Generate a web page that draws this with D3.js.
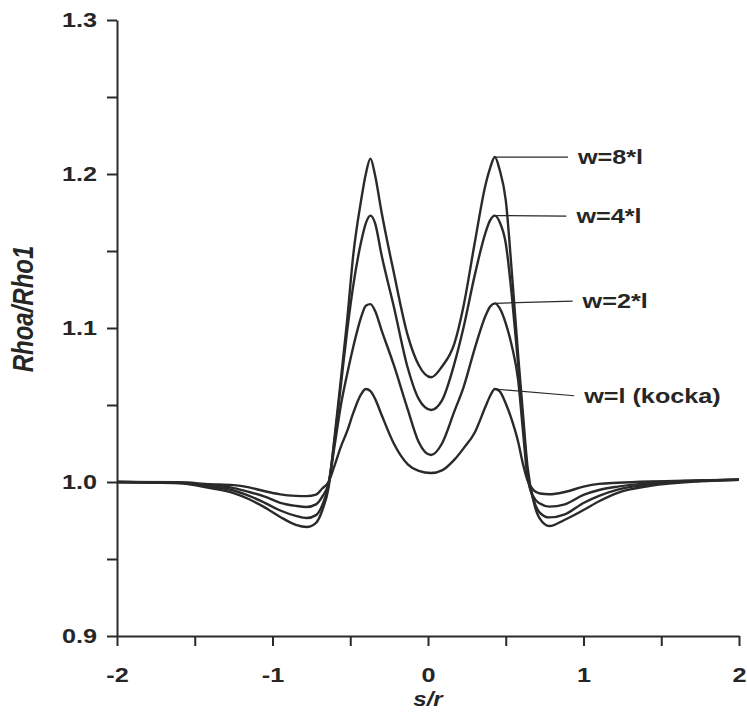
<!DOCTYPE html>
<html>
<head>
<meta charset="utf-8">
<script src="https://cdn.jsdelivr.net/npm/d3@7/dist/d3.min.js"></script>
<style>
body { margin: 0; background: #fff; }
text { font-family: "Liberation Sans", Arial, sans-serif; font-weight: bold; fill: #262626; }
</style>
</head>
<body>
<script>
// s/r positions
var sr = [-2, -1.6, -1.4, -1.25, -1.15, -1.05, -0.95, -0.85, -0.78, -0.72, -0.68, -0.64,
  -0.6, -0.56, -0.52, -0.48, -0.43, -0.4, -0.37, -0.34, -0.3, -0.22, -0.13, -0.06,
  0.02, 0.09, 0.17, 0.23, 0.3, 0.37, 0.4, 0.43, 0.46, 0.5, 0.54, 0.58,
  0.61, 0.64, 0.68, 0.72, 0.78, 0.88, 1.0, 1.1, 1.22, 1.43, 1.75, 2];

// Rhoa/Rho1 for each block width
var w8 = [1.0, 0.9992, 0.996, 0.9928, 0.9888, 0.9835, 0.9773, 0.9722, 0.9708, 0.9735, 0.9815, 0.996,
  1.03, 1.067, 1.105, 1.148, 1.183, 1.2, 1.21, 1.199, 1.176, 1.136, 1.095, 1.076,
  1.068, 1.075, 1.09, 1.115, 1.155, 1.193, 1.204, 1.211, 1.203, 1.183, 1.135, 1.082,
  1.045, 1.01, 0.987, 0.976, 0.9714, 0.9755, 0.9818, 0.9875, 0.993, 0.9975, 1.0005, 1.0015];
var w4 = [1.0, 0.9994, 0.9968, 0.9945, 0.991, 0.9865, 0.9815, 0.978, 0.9766, 0.9785, 0.985, 0.998,
  1.028, 1.063, 1.098, 1.128, 1.156, 1.168, 1.173, 1.168, 1.148, 1.114, 1.074, 1.054,
  1.0468, 1.053, 1.077, 1.101, 1.134, 1.162, 1.17, 1.173, 1.169, 1.155, 1.12, 1.076,
  1.04, 1.006, 0.988, 0.98, 0.977, 0.979, 0.9864, 0.991, 0.995, 0.9985, 1.0008, 1.0015];
var w2 = [1.0, 0.9996, 0.9978, 0.996, 0.9935, 0.9905, 0.9865, 0.9845, 0.9838, 0.9855, 0.9905, 0.999,
  1.024, 1.05, 1.07, 1.088, 1.107, 1.1145, 1.1155, 1.111, 1.099, 1.076, 1.047, 1.026,
  1.0175, 1.025, 1.046, 1.062, 1.0865, 1.108, 1.114, 1.116, 1.113, 1.103, 1.088, 1.066,
  1.034, 1.003, 0.99, 0.986, 0.984, 0.9855, 0.9916, 0.9948, 0.997, 0.9993, 1.001, 1.0015];
var w1 = [1.0, 0.9998, 0.9986, 0.998, 0.9965, 0.994, 0.992, 0.991, 0.9908, 0.9918, 0.9958, 1.0,
  1.011, 1.023, 1.033, 1.045, 1.057, 1.0604, 1.059, 1.054, 1.044, 1.025, 1.0115, 1.0072,
  1.0058, 1.0075, 1.0145, 1.022, 1.032, 1.049, 1.056, 1.0604, 1.059, 1.051, 1.04, 1.026,
  1.012, 1.001, 0.9945, 0.9925, 0.992, 0.9935, 0.997, 0.9988, 0.9995, 1.0003, 1.001, 1.0015];

var seriesNames = ["w=8*l", "w=4*l", "w=2*l", "w=l (kocka)"];
var xTicks = [-2, -1.5, -1, -0.5, 0, 0.5, 1, 1.5, 2];
var yTicks = [0.9, 0.95, 1.0, 1.05, 1.1, 1.15, 1.2, 1.25, 1.3];

// where the leader lines end (data units)
var labelX = [0.9, 0.89, 0.93, 0.94],
	labelY = [1.211, 1.1727, 1.1175, 1.056];

var margin = {top: 20, bottom: 79, left: 117, right: 8},
	width = 747 - margin.left - margin.right,
	height = 715 - margin.top - margin.bottom;

var ink = "#2a2a2a";

var x = d3.scaleLinear().domain([-2, 2]).range([0, width]);
var y = d3.scaleLinear().domain([0.9, 1.3]).range([height, 0]);

var svg = d3.select("body").append("svg")
		.attr("width", 747)
		.attr("height", 715)
	.append("g")
		.attr("transform", "translate(" + margin.left + "," + margin.top + ")");

// stretch text a bit wider, like the scanned figure
function widen(sel, k) {
	sel.each(function() {
		var l = this.getComputedTextLength();
		d3.select(this).attr("textLength", l * k).attr("lengthAdjust", "spacingAndGlyphs");
	});
}

svg.append("g")
		.attr("transform", "translate(0," + height + ")")
		.call(d3.axisBottom(x)
			.tickValues(xTicks)
			.tickSize(10)
			.tickSizeOuter(0)
			.tickPadding(21)
			.tickFormat(function(d) { return Number.isInteger(d) ? String(d) : ""; }));

svg.append("g")
		.call(d3.axisLeft(y)
			.tickValues(yTicks)
			.tickSize(10)
			.tickSizeOuter(0)
			.tickPadding(10)
			.tickFormat(function(d) { return Math.round(d * 100) % 10 === 0 ? d3.format(".1f")(d) : ""; }));

svg.selectAll(".domain, .tick line")
		.attr("stroke", ink)
		.attr("stroke-width", 2);
svg.selectAll(".tick text")
		.attr("fill", "#262626")
		.style("font-size", "21px")
		.style("font-family", "'Liberation Sans', Arial, sans-serif")
		.style("font-weight", "bold");
widen(svg.selectAll(".tick text"), 1.2);

// axis titles
svg.append("text")
		.attr("x", x(0))
		.attr("y", height + 70)
		.attr("text-anchor", "middle")
		.style("font-size", "20px")
		.style("font-style", "italic")
		.text("s/r")
		.call(widen, 1.2);

svg.append("text")
		.attr("transform", "translate(" + (33 - margin.left) + "," + (309 - margin.top) + ") rotate(-90) scale(1,1.2)")
		.attr("text-anchor", "middle")
		.style("font-size", "24px")
		.style("font-style", "italic")
		.text("Rhoa/Rho1");

var series = [w8, w4, w2, w1].map(function(vals, i) {
	return {name: seriesNames[i], values: vals.map(function(v, j) { return {s: sr[j], r: v}; })};
});

var line = d3.line()
		.x(function(d) { return x(d.s); })
		.y(function(d) { return y(d.r); })
		.curve(d3.curveMonotoneX);

svg.selectAll(".curve")
		.data(series)
		.enter().append("path")
		.attr("class", "curve")
		.attr("d", function(d) { return line(d.values); })
		.attr("fill", "none")
		.attr("stroke", ink)
		.attr("stroke-width", 2.4)
		.attr("stroke-linejoin", "round");

// labels with leader lines from the right peak
series.forEach(function(d, i) {
	var right = d.values.filter(function(p) { return p.s > 0; });
	var peak = right.reduce(function(a, b) { return b.r > a.r ? b : a; });
	svg.append("line")
		.attr("x1", x(peak.s))
		.attr("y1", y(peak.r))
		.attr("x2", x(labelX[i]))
		.attr("y2", y(labelY[i]))
		.attr("stroke", ink)
		.attr("stroke-width", 1.2);
	svg.append("text")
		.attr("x", x(labelX[i]) + 10)
		.attr("y", y(labelY[i]))
		.attr("dy", "0.35em")
		.style("font-size", "21px")
		.text(d.name)
		.call(widen, 1.2);
});
</script>
</body>
</html>
